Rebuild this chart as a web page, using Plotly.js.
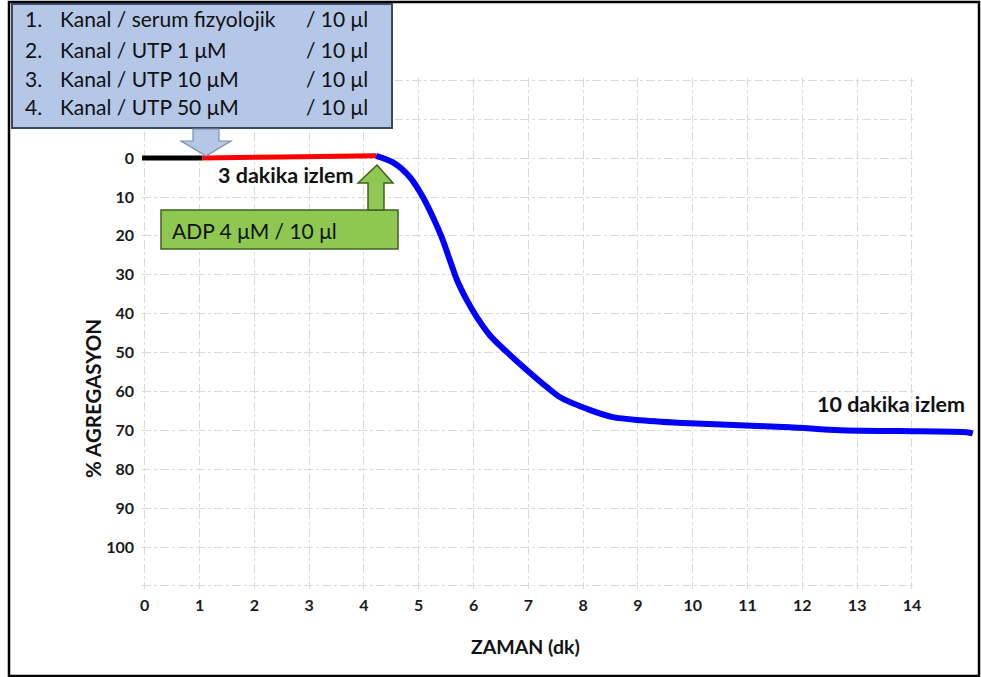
<!DOCTYPE html>
<html>
<head>
<meta charset="utf-8">
<script src="https://cdn.plot.ly/plotly-3.0.1.min.js"></script>
<style>html,body{margin:0;padding:0;background:#fff;}#chart{width:981px;height:677px;}</style>
</head>
<body>
<div id="chart"></div>
<script>
// ---- data ----
var xTickVals = [0,1,2,3,4,5,6,7,8,9,10,11,12,13,14];
var yTickVals = [-20,-10,0,10,20,30,40,50,60,70,80,90,100,110];
var yTickText = ['','','0','10','20','30','40','50','60','70','80','90','100',''];

var baselineX = [-0.05, 1.05];
var baselineY = [0, 0];

var incubX = [1.05, 2.5, 4.22];
var incubY = [0, -0.3, -0.6];

var aggX = [4.22, 4.53, 4.84, 5.08, 5.26, 5.42, 5.57, 5.70, 5.88, 6.06, 6.30, 6.61, 6.98, 7.34, 7.58, 8.13, 8.54, 9.04, 9.95, 10.86, 11.77, 12.69, 13.78, 15.0, 15.11];
var aggY = [-0.6, 1.1, 4.9, 10.1, 15.2, 20.4, 26.3, 31.4, 36.6, 40.9, 45.6, 49.9, 54.6, 58.9, 61.5, 64.8, 66.6, 67.4, 68.2, 68.7, 69.2, 70.0, 70.2, 70.5, 70.8];

var boxLines = [
  ['1.', 'Kanal / serum fizyolojik', '/ 10 μl'],
  ['2.', 'Kanal / UTP 1 μM', '/ 10 μl'],
  ['3.', 'Kanal / UTP 10 μM', '/ 10 μl'],
  ['4.', 'Kanal / UTP 50 μM', '/ 10 μl']
];

// ---- geometry helpers (pixel -> paper) ----
var W = 981, H = 677;
var ML = 142, MR = 6, MT = 78, MB = 88;
var PW = W - ML - MR, PH = H - MT - MB;
function px(x){ return (x - ML) / PW; }
function py(y){ return (H - MB - y) / PH; }
function pathFrom(pts){
  return 'M ' + pts.map(function(p){ return px(p[0]).toFixed(5) + ',' + py(p[1]).toFixed(5); }).join(' L ') + ' Z';
}

var FONT = 'Lato, "Open Sans", sans-serif';
var unit = 54.8;
var x1End = -0.05 + PW / unit;
var xDomEnd = (14.1 * unit) / PW;

var traces = [
  {x: [null], y: [null], xaxis: 'x', yaxis: 'y', mode: 'lines', hoverinfo: 'skip', showlegend:false},
  {x: aggX, y: aggY, xaxis: 'x2', yaxis: 'y2', mode: 'lines', line: {color: '#0000ff', width: 6, shape: 'spline', smoothing: 0.8}, hoverinfo: 'skip'},
  {x: incubX, y: incubY, xaxis: 'x2', yaxis: 'y2', mode: 'lines', line: {color: '#ff0000', width: 5, shape: 'spline'}, hoverinfo: 'skip'},
  {x: baselineX, y: baselineY, xaxis: 'x2', yaxis: 'y2', mode: 'lines', line: {color: '#000000', width: 5}, hoverinfo: 'skip'}
];

var annotations = [];
var lineY = [19, 49, 78, 106];
boxLines.forEach(function(l, i){
  annotations.push({xref:'paper', yref:'paper', x: px(23), y: py(lineY[i]), xanchor:'left', yanchor:'middle', text: l[0], showarrow:false, font:{family:FONT, size:21, color:'#111'}});
  annotations.push({xref:'paper', yref:'paper', x: px(58), y: py(lineY[i]), xanchor:'left', yanchor:'middle', text: l[1], showarrow:false, font:{family:FONT, size:21, color:'#111'}});
  annotations.push({xref:'paper', yref:'paper', x: px(304), y: py(lineY[i]), xanchor:'left', yanchor:'middle', text: l[2], showarrow:false, font:{family:FONT, size:21, color:'#111'}});
});
annotations.push({xref:'paper', yref:'paper', x: px(170), y: py(230), xanchor:'left', yanchor:'middle', text:'ADP 4 μM / 10 μl', showarrow:false, font:{family:FONT, size:21, color:'#111'}});
annotations.push({xref:'paper', yref:'paper', x: px(286), y: py(175), xanchor:'center', yanchor:'middle', text:'3 dakika izlem', showarrow:false, font:{family:FONT, size:21.5, color:'#111', weight:'bold'}});
annotations.push({xref:'paper', yref:'paper', x: px(891), y: py(404), xanchor:'center', yanchor:'middle', text:'10 dakika izlem', showarrow:false, font:{family:FONT, size:21.5, color:'#111', weight:'bold'}});
annotations.push({xref:'paper', yref:'paper', x: px(93), y: py(399), xanchor:'center', yanchor:'middle', textangle:-90, text:'% AGREGASYON', showarrow:false, font:{family:FONT, size:20.5, color:'#111', weight:'bold'}});
annotations.push({xref:'paper', yref:'paper', x: px(525), y: py(647), xanchor:'center', yanchor:'middle', text:'ZAMAN (dk)', showarrow:false, font:{family:FONT, size:19.5, color:'#111', weight:'bold'}});

var shapes = [
  // outer frame
  {type:'rect', xref:'paper', yref:'paper', x0: px(9), x1: px(979), y0: py(676), y1: py(2), line:{color:'#000', width:2.5}, fillcolor:'rgba(0,0,0,0)', layer:'above'},
  // blue box
  {type:'rect', xref:'paper', yref:'paper', x0: px(12), x1: px(392), y0: py(128), y1: py(4), line:{color:'#3b4a60', width:2}, fillcolor:'#b4c7e7', layer:'above'},
  // down arrow
  {type:'path', xref:'paper', yref:'paper', path: pathFrom([[193,129],[219,129],[219,141],[231,141],[206,156],[181,141],[193,141]]), line:{color:'#7f8ea3', width:1.2}, fillcolor:'#b4c7e7', layer:'above'},
  // green box
  {type:'rect', xref:'paper', yref:'paper', x0: px(161), x1: px(398), y0: py(249), y1: py(210), line:{color:'#3f5f22', width:1.5}, fillcolor:'#8fc850', layer:'above'},
  // green up arrow
  {type:'path', xref:'paper', yref:'paper', path: pathFrom([[368,210],[368,183],[358,183],[377,165],[393,183],[384,183],[384,210]]), line:{color:'#3f5f22', width:1.5}, fillcolor:'#8fc850', layer:'above'}
];

var gridStyle = {gridcolor:'#dadada', gridwidth:1, griddash:'dashdot'};

var layout = {
  width: W, height: H,
  margin: {l: ML, r: MR, t: MT, b: MB, pad: 0},
  paper_bgcolor: '#ffffff',
  plot_bgcolor: 'rgba(0,0,0,0)',
  showlegend: false,
  xaxis: Object.assign({
    domain: [0, xDomEnd], range: [-0.05, 14.05], tickmode:'array', tickvals: xTickVals,
    showgrid: true, zeroline:false, showline:false, ticks:'', ticklabelstandoff: 5, anchor:'y',
    tickfont:{family:FONT, size:16, color:'#1a1a1a', weight:'bold'}, fixedrange:true
  }, gridStyle),
  yaxis: Object.assign({
    range: [110.8, -20.6], tickmode:'array', tickvals: yTickVals, ticktext: yTickText,
    showgrid: true, zeroline:false, showline:false, ticks:'', ticklabelstandoff: 7, anchor:'x',
    tickfont:{family:FONT, size:16, color:'#1a1a1a', weight:'bold'}, fixedrange:true
  }, gridStyle),
  xaxis2: {domain:[0,1], range:[-0.05, x1End], visible:false, showgrid:false, zeroline:false, anchor:'y2', fixedrange:true},
  yaxis2: {range:[110.8, -20.6], visible:false, showgrid:false, zeroline:false, anchor:'x2', fixedrange:true},
  shapes: shapes,
  annotations: annotations
};

Plotly.newPlot('chart', traces, layout, {displayModeBar:false, staticPlot:true});
</script>
</body>
</html>
